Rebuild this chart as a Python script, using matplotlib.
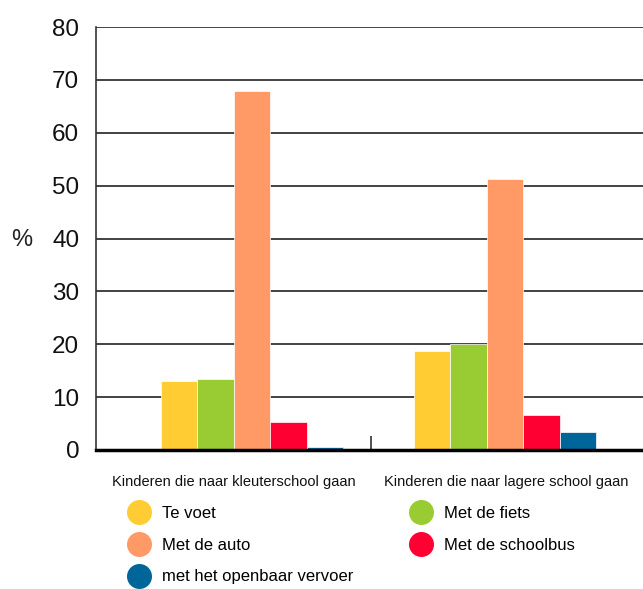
import matplotlib.pyplot as plt
import matplotlib.transforms as mtransforms
from matplotlib.lines import Line2D
import numpy as np

plt.rcParams["font.family"] = ["Liberation Sans", "DejaVu Sans"]

groups = ["Kinderen die naar kleuterschool gaan", "Kinderen die naar lagere school gaan"]
modes = ["Te voet", "Met de fiets", "Met de auto", "Met de schoolbus", "met het openbaar vervoer"]
colors = ["#FFCC33", "#99CC33", "#FF9966", "#FF0033", "#006699"]
values = {
    "Te voet": [13.0, 18.7],
    "Met de fiets": [13.4, 20.0],
    "Met de auto": [68.0, 51.2],
    "Met de schoolbus": [5.3, 6.6],
    "met het openbaar vervoer": [0.5, 3.4],
}
yticks = [0, 10, 20, 30, 40, 50, 60, 70, 80]

fig = plt.figure(figsize=(6.43, 5.89), dpi=100)
ax = fig.add_axes([0.1493, 0.236, 0.8507, 0.718])

x = np.arange(len(groups))
w = 0.144
for i, m in enumerate(modes):
    ax.bar(x + (i - 2) * w, values[m], width=w, color=colors[i], edgecolor="white",
           linewidth=0.5, zorder=3)

ax.set_ylim(0, 80)
ax.set_xlim(-0.617, 1.545)
ax.set_yticks(yticks)
ax.set_yticklabels([str(v) for v in yticks], fontsize=17.5, color="#111111")
ax.tick_params(axis="y", length=0, pad=12)
ax.yaxis.grid(True, color="#222222", linewidth=1.2, zorder=0)

# group labels sit a bit off the group centres in the original
ax.set_xticks(x)
ax.set_xticklabels([])
ax.tick_params(axis="x", length=0)
trans = mtransforms.blended_transform_factory(ax.transData, fig.transFigure)
for xi, off, g in zip(x, [-0.071, 0.006], groups):
    ax.text(xi + off, 1 - 482 / 589, g, transform=trans, ha="center", va="center",
            fontsize=10.5, color="#111111")

ax.set_xticks([0.47], minor=True)
ax.tick_params(axis="x", which="minor", direction="in", length=10, width=1.2, color="#333333")

for s in ["top", "right"]:
    ax.spines[s].set_visible(False)
ax.spines["left"].set_linewidth(1.2)
ax.spines["left"].set_color("#333333")
ax.spines["bottom"].set_linewidth(2.5)
ax.spines["bottom"].set_zorder(4)

fig.text(0.034, 0.593, "%", fontsize=17, ha="center", va="center", color="#222222")

order = ["Te voet", "Met de auto", "met het openbaar vervoer", "Met de fiets", "Met de schoolbus"]
handles = [Line2D([], [], linestyle="none", marker="o", markersize=18,
                  markerfacecolor=colors[modes.index(m)], markeredgecolor="none")
           for m in order]
fig.legend(handles, order, ncol=2, loc="upper left", bbox_to_anchor=(0.198, 0.1414),
           frameon=False, fontsize=12, labelspacing=1.01, columnspacing=3.37,
           handlelength=1.4, handletextpad=0.68, borderpad=0, borderaxespad=0)

fig.savefig("out.png", dpi=100)
